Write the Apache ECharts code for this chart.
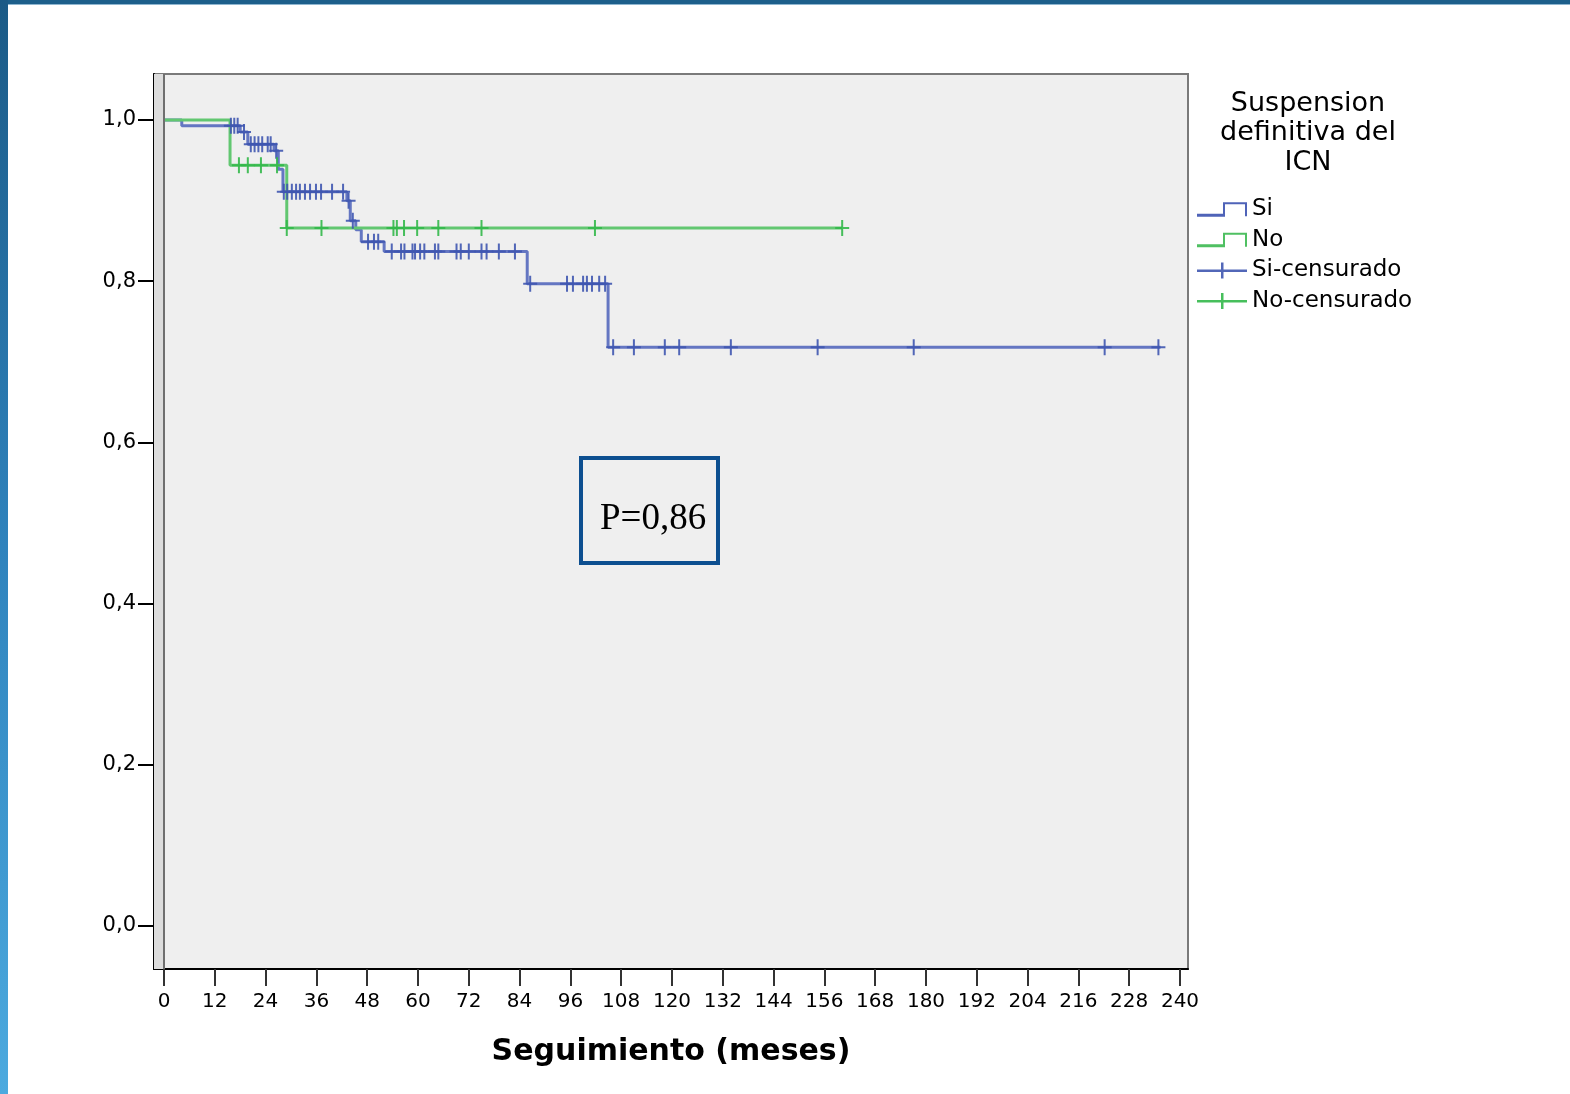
<!DOCTYPE html>
<html>
<head>
<meta charset="utf-8">
<script src="https://cdn.jsdelivr.net/npm/echarts@6.0.0/dist/echarts.min.js"></script>
<style>
  html, body { margin: 0; padding: 0; background: #fff; }
  #chart { position: absolute; left: 0; top: 0; width: 1570px; height: 1094px; }
  #topbar { position: absolute; left: 0; top: 0; width: 1570px; height: 4px; background: #1d5f8b; border-bottom: 1px solid #8fb6d0; z-index: 5; }
  #leftbar { position: absolute; left: 0; top: 0; width: 8px; height: 1094px; background: linear-gradient(#1b5a86, #2f83bd 50%, #4caadf); z-index: 5; }
</style>
</head>
<body>
<div id="chart"></div>
<div id="topbar"></div>
<div id="leftbar"></div>
<script>
// Kaplan-Meier, "Suspension definitiva del ICN"
const xTicks = [0, 12, 24, 36, 48, 60, 72, 84, 96, 108, 120, 132, 144, 156, 168, 180, 192, 204, 216, 228, 240]
const yTicks = [0, 0.2, 0.4, 0.6, 0.8, 1.0]

// Si: event times (months) and survival after each event
const siTimes = [0, 4.2, 18.0, 19.8, 26.0, 27.0, 28.1, 43.2, 44.0, 45.3, 46.6, 52.0, 85.8, 104.9]
const siSurv = [1.0, 0.993, 0.985, 0.970, 0.962, 0.939, 0.911, 0.900, 0.875, 0.864, 0.849, 0.837, 0.797, 0.718]
const siLastFollowUp = 235.4
const siCensored = [15.8, 16.6, 17.4, 18.9, 20.5, 21.4, 22.3, 23.2, 24.5, 25.2, 26.5, 28.3, 29.1, 30.2,
  31.2, 32.1, 33.3, 34.5, 35.9, 37.1, 39.7, 42.3, 43.6, 44.6, 48.2, 49.6, 50.6, 53.8, 56.0, 56.8,
  58.7, 59.3, 60.5, 61.5, 64.0, 64.8, 69.1, 70.1, 72.0, 75.0, 76.2, 79.1, 82.9, 86.5, 95.2, 96.6,
  99.0, 99.9, 101.1, 102.8, 104.2, 106.1, 111.0, 118.3, 121.7, 133.9, 154.4, 177.1, 222.2, 234.9]

// No
const noTimes = [0, 15.6, 29.0]
const noSurv = [1.0, 0.944, 0.866]
const noLastFollowUp = 160.2
const noCensored = [17.7, 19.8, 22.9, 26.7, 29.0, 37.2, 54.2, 55.0, 56.7, 59.8, 64.8, 75.0, 101.8, 160.2]

const xMin = -2.362
const xMax = 241.89
const yMin = -0.0533
const yMax = 1.0571

const stepLine = (times, surv, last) =>
  times.map((t, i) => [t, surv[i]]).concat([[last, surv[surv.length - 1]]])

const survAt = (times, surv, t) => {
  let s = surv[0]
  times.forEach((et, i) => { if (et <= t) s = surv[i] })
  return s
}

const censorPoints = (cens, times, surv) => cens.map(t => [t, survAt(times, surv, t)])

const stepIcon = 'path://M0,12.5 h28 v3 h-28 z M26,1 h2 v14 h-2 z M26,1 h24 v2 h-24 z M48,1 h2 v14 h-2 z'
const censIcon = 'path://M0,7 h50 v2.5 h-50 z M24,0 h2.5 v16 h-2.5 z'
const plusMark = 'path://M6,0 h2 v16 h-2 z M0,7 h14 v2 h-14 z'

const font = 'DejaVu Sans'
const chart = echarts.init(document.getElementById('chart'))

chart.setOption({
  animation: false,
  grid: {
    left: 154, right: 382, top: 74, bottom: 125,
    show: true, backgroundColor: '#efefef', borderColor: '#7a7a7a', borderWidth: 2
  },
  legend: {
    orient: 'vertical',
    left: 1192,
    top: 193,
    itemWidth: 50,
    itemHeight: 16,
    itemGap: 7.5,
    selectedMode: false,
    textStyle: { fontFamily: font, fontSize: 23, color: '#000', lineHeight: 21.5 },
    data: [
      { name: 'Si', icon: stepIcon },
      { name: 'No', icon: stepIcon },
      { name: 'Si-censurado', icon: censIcon },
      { name: 'No-censurado', icon: censIcon }
    ]
  },
  xAxis: {
    type: 'value',
    min: xMin,
    max: xMax,
    axisLine: { show: true, onZero: false, lineStyle: { color: '#000', width: 2 } },
    axisTick: { show: true, customValues: xTicks, length: 17, lineStyle: { color: '#333', width: 2 } },
    axisLabel: { customValues: xTicks, fontFamily: font, fontSize: 20, color: '#000', margin: 23 },
    splitLine: { show: false },
    name: 'Seguimiento (meses)',
    nameLocation: 'middle',
    nameGap: 68,
    nameTextStyle: { fontFamily: font, fontSize: 30, fontWeight: 'bold', color: '#000' }
  },
  yAxis: {
    type: 'value',
    min: yMin,
    max: yMax,
    axisLine: { show: true, onZero: false, lineStyle: { color: '#000', width: 2 } },
    axisTick: { show: true, customValues: yTicks, length: 16, lineStyle: { color: '#000', width: 2 } },
    axisLabel: {
      customValues: yTicks, fontFamily: font, fontSize: 21, color: '#000', margin: 18,
      formatter: v => v.toFixed(1).replace('.', ',')
    },
    splitLine: { show: false }
  },
  graphic: [
    {
      type: 'text', x: 1308, y: 89, z: 10,
      style: {
        text: 'Suspension\ndefinitiva del\nICN', align: 'center', verticalAlign: 'top',
        font: '27px "DejaVu Sans"', lineHeight: 29.5, fill: '#000'
      }
    },
    {
      type: 'rect', z: 10,
      shape: { x: 581, y: 458, width: 137, height: 105 },
      style: { fill: '#efefef', stroke: '#0d4f90', lineWidth: 4 }
    },
    {
      type: 'text', x: 600, y: 519, z: 11,
      style: {
        text: 'P=0,86', align: 'left', verticalAlign: 'middle',
        font: '37px "Liberation Serif"', fill: '#000'
      }
    }
  ],
  series: [
    {
      name: 'Si',
      type: 'line',
      step: 'end',
      symbol: 'none',
      z: 3,
      color: '#4f63b8',
      lineStyle: { color: '#6476c2', width: 3 },
      data: stepLine(siTimes, siSurv, siLastFollowUp),
      markArea: {
        silent: true,
        itemStyle: { color: '#dcdcdc' },
        data: [[{ xAxis: xMin }, { xAxis: 0 }]]
      },
      markLine: {
        silent: true,
        symbol: 'none',
        label: { show: false },
        lineStyle: { color: '#6f6f6f', width: 2, type: 'solid' },
        data: [{ xAxis: 0 }]
      }
    },
    {
      name: 'No',
      type: 'line',
      step: 'end',
      symbol: 'none',
      z: 4,
      color: '#4fc062',
      lineStyle: { color: '#62c771', width: 3 },
      data: stepLine(noTimes, noSurv, noLastFollowUp)
    },
    {
      name: 'Si-censurado',
      type: 'scatter',
      symbol: plusMark,
      symbolSize: [14, 16],
      z: 5,
      itemStyle: { color: '#3f56b0', opacity: 0.9 },
      data: censorPoints(siCensored, siTimes, siSurv)
    },
    {
      name: 'No-censurado',
      type: 'scatter',
      symbol: plusMark,
      symbolSize: [14, 16],
      z: 6,
      itemStyle: { color: '#33b84a', opacity: 0.9 },
      data: censorPoints(noCensored, noTimes, noSurv)
    }
  ]
})
</script>
</body>
</html>
